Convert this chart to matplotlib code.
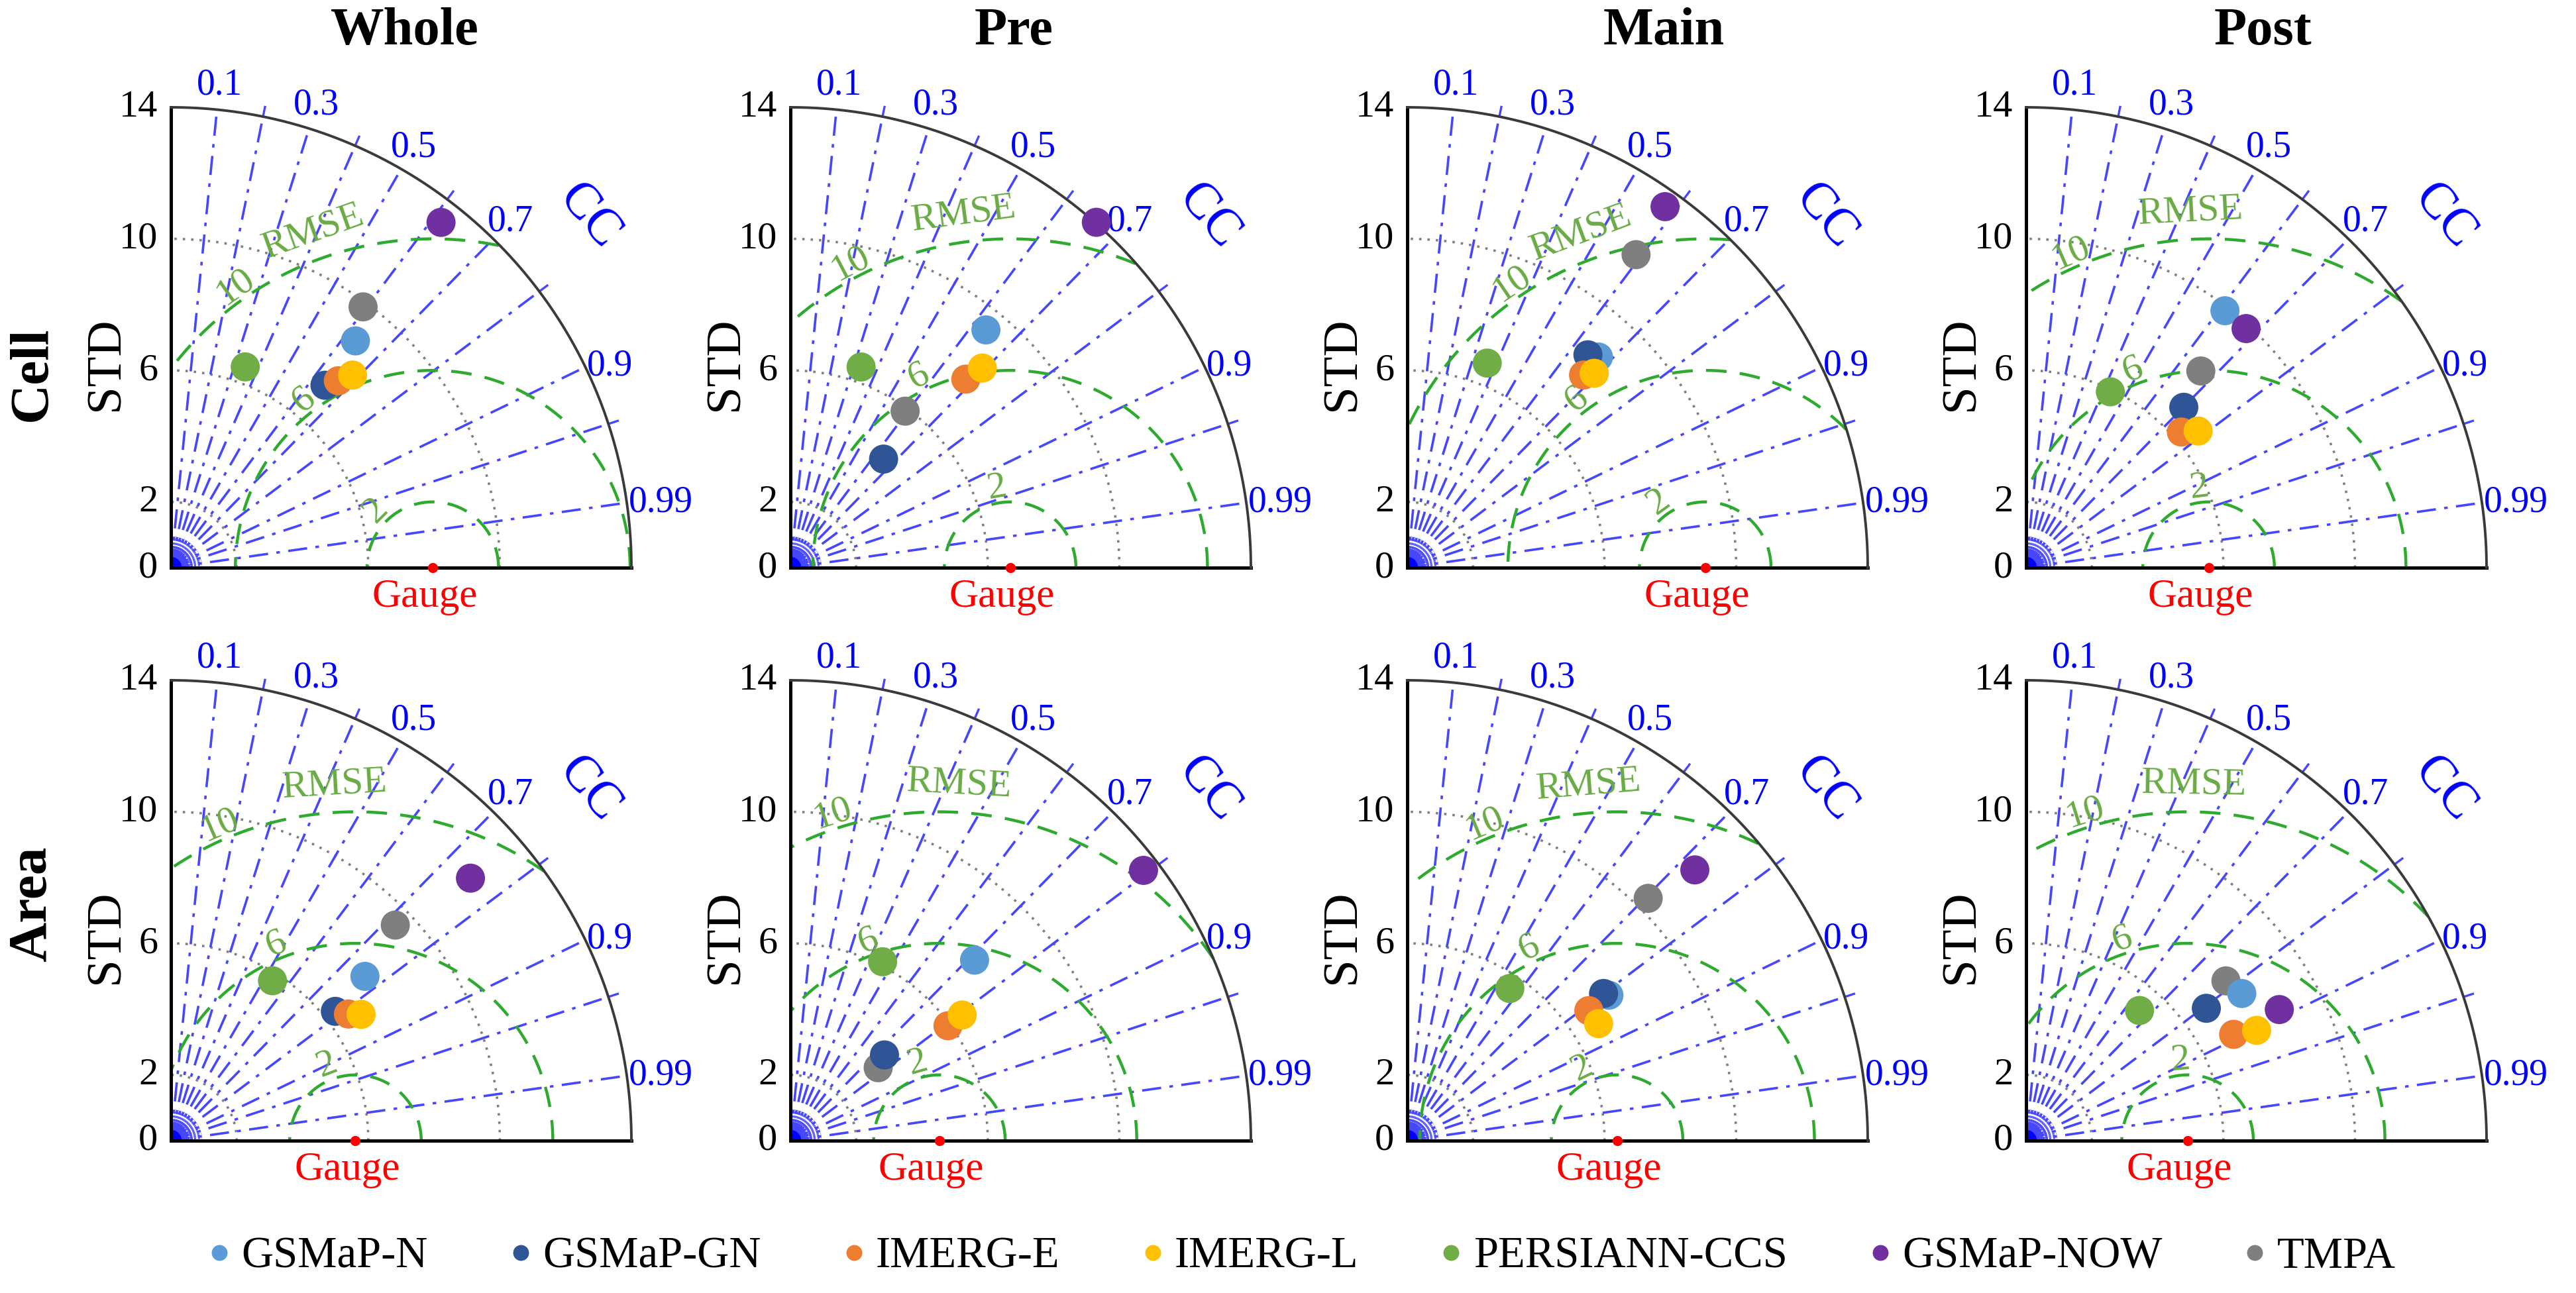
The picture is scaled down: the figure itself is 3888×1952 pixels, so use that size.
import numpy as np
import matplotlib.pyplot as plt
from matplotlib.patches import Wedge
from matplotlib.lines import Line2D

plt.rcParams["font.family"] = ["Liberation Serif", "DejaVu Serif"]

periods = ["Whole", "Pre", "Main", "Post"]
scales = ["Cell", "Area"]
products = ["GSMaP-N", "GSMaP-GN", "IMERG-E", "IMERG-L", "PERSIANN-CCS", "GSMaP-NOW", "TMPA"]
colors = ["#5b9bd5", "#2f5597", "#ed7d31", "#ffc000", "#70ad47", "#7030a0", "#7f7f7f"]

gauge_std_cell = [7.96, 6.68, 9.06, 5.55]
gauge_std_area = [5.61, 4.53, 6.38, 4.91]

# one row per period, products in the order above
std_cell = [
    [8.89, 7.26, 7.63, 8.05, 6.51, 13.33, 9.85],
    [9.36, 4.35, 7.83, 8.42, 6.47, 14.03, 5.90],
    [8.65, 8.49, 7.94, 8.20, 6.68, 13.49, 11.79],
    [9.88, 6.84, 6.27, 6.68, 5.93, 9.88, 8.00],
]
cc_cell = [
    [0.631, 0.645, 0.667, 0.686, 0.347, 0.616, 0.593],
    [0.635, 0.651, 0.681, 0.693, 0.332, 0.663, 0.591],
    [0.672, 0.647, 0.675, 0.693, 0.364, 0.581, 0.590],
    [0.612, 0.701, 0.753, 0.783, 0.432, 0.677, 0.664],
]
std_area = [
    [7.73, 6.36, 6.63, 6.94, 5.76, 12.11, 9.46],
    [7.84, 3.87, 5.93, 6.47, 6.12, 13.52, 3.47],
    [7.56, 7.46, 6.79, 6.82, 5.58, 12.01, 10.39],
    [7.94, 6.80, 7.09, 7.77, 5.25, 8.67, 7.78],
]
cc_area = [
    [0.763, 0.786, 0.814, 0.833, 0.536, 0.752, 0.721],
    [0.714, 0.739, 0.808, 0.807, 0.458, 0.794, 0.769],
    [0.811, 0.800, 0.813, 0.853, 0.559, 0.728, 0.705],
    [0.826, 0.806, 0.890, 0.902, 0.657, 0.888, 0.781],
]

cc_lines = [0.1, 0.2, 0.3, 0.4, 0.5, 0.6, 0.7, 0.8, 0.9, 0.95, 0.99]
cc_labels = [0.1, 0.3, 0.5, 0.7, 0.9, 0.99]
std_ticks = [0, 2, 6, 10, 14]
std_arcs = [2, 6, 10]
rmse_levels = [2, 6, 10]

# angle (deg, around the gauge point) where the rmse labels sit: 2, 6, 10, "RMSE"
rmse_label_ang = {
    ("Cell", 0): [135, 127.6, 125, 109.6], ("Cell", 1): [99.8, 115.5, 117.6, 97.5],
    ("Cell", 2): [125.8, 127.3, 124.2, 110.4], ("Cell", 3): [97, 111, 113.6, 92.9],
    ("Area", 0): [110.7, 112, 113.2, 93.4], ("Area", 1): [105.7, 109.6, 108, 86.9],
    ("Area", 2): [116, 114.5, 112.6, 94.6], ("Area", 3): [95, 107.9, 107.3, 89],
}
title_x = [7.1, 6.8, 7.8, 7.2]
row_label_y = {"Cell": 5.9, "Area": 7.2}

BLUE = "#4646ff"
GREEN = "#2eaa2e"
LGREEN = "#6aab45"
RMAX = 14.0


def taylor(ax, gauge, stds, ccs, lab_ang):
    ax.set_xlim(0, RMAX)
    ax.set_ylim(0, RMAX)
    ax.axis("off")
    th = np.linspace(0, np.pi / 2, 300)
    # std arcs (gray dotted)
    for r in std_arcs:
        ax.plot(r * np.cos(th), r * np.sin(th), color="#808080", ls=(0, (1, 2.5)), lw=1.3, zorder=1)
    # cc lines
    for c in cc_lines:
        a = np.arccos(c)
        ax.plot([0, RMAX * np.cos(a)], [0, RMAX * np.sin(a)], color=BLUE, lw=1.3,
                ls=(0, (8, 3.5, 1.5, 3.5)), zorder=2)
        if c not in cc_labels:
            ax.plot([RMAX * np.cos(a), 14.3 * np.cos(a)], [RMAX * np.sin(a), 14.3 * np.sin(a)],
                    color=BLUE, lw=1.2, clip_on=False, zorder=2)
    for c in cc_labels:
        a = np.arccos(c)
        if c < 0.8:
            ax.text(14.75 * np.cos(a), 14.75 * np.sin(a), f"{c:g}", color="blue", fontsize=20,
                    ha="center", va="center", clip_on=False)
        else:
            ax.text(14.05 * np.cos(a), 14.05 * np.sin(a), f"{c:g}", color="blue", fontsize=20,
                    ha="left", va="center", clip_on=False)
    a = np.deg2rad(40)
    ax.text(16.6 * np.cos(a), 16.6 * np.sin(a), "CC", color="blue", fontsize=28, rotation=-50,
            ha="center", va="center", clip_on=False)
    # fan near the origin
    for ang in np.linspace(2, 88, 30):
        t = np.deg2rad(ang)
        ax.plot([0, 0.95 * np.cos(t)], [0, 0.95 * np.sin(t)], color=BLUE, lw=0.6, ls=(0, (2, 1.5)), zorder=2)
    for r in [0.45, 0.65]:
        ax.plot(r * np.cos(th), r * np.sin(th), color=BLUE, lw=0.6, zorder=2)
    ax.add_patch(Wedge((0, 0), 0.3, 0, 90, color="blue", zorder=3, clip_on=False))
    # rmse circles around the gauge
    tc = np.linspace(0, np.pi, 600)
    for r in rmse_levels:
        x = gauge + r * np.cos(tc)
        y = r * np.sin(tc)
        keep = (x >= 0) & (np.hypot(x, y) <= RMAX)
        x = np.where(keep, x, np.nan)
        y = np.where(keep, y, np.nan)
        ax.plot(x, y, color=GREEN, lw=1.6, ls=(0, (7, 4.5)), zorder=2)
    for r, ang in zip(rmse_levels, lab_ang[:3]):
        t = np.deg2rad(ang)
        ax.text(gauge + (r + 0.45) * np.cos(t), (r + 0.45) * np.sin(t), str(r), color=LGREEN,
                fontsize=21, rotation=ang - 90, rotation_mode="anchor", ha="center", va="center", zorder=4)
    t = np.deg2rad(lab_ang[3])
    ax.text(gauge + 10.85 * np.cos(t), 10.85 * np.sin(t), "RMSE", color=LGREEN, fontsize=21,
            rotation=lab_ang[3] - 90, rotation_mode="anchor", ha="center", va="center", zorder=4)
    # frame
    ax.plot([0, 0], [0, RMAX], color="black", lw=1.8, zorder=5, clip_on=False)
    ax.plot([0, RMAX], [0, 0], color="black", lw=1.8, zorder=5, clip_on=False)
    ax.plot(RMAX * np.cos(th), RMAX * np.sin(th), color="#3a3a3a", lw=1.4, zorder=5, clip_on=False)
    for v in std_ticks:
        ax.text(-0.4, v, str(v), fontsize=21, ha="right", va="center", clip_on=False)
    ax.text(-1.95, 6.2, "STD", fontsize=27, rotation=90, ha="center", va="center", clip_on=False)
    # gauge
    ax.plot([gauge], [0], "o", color="red", ms=4.5, zorder=6, clip_on=False)
    ax.text(gauge - 0.25, -0.9, "Gauge", color="red", fontsize=22, ha="center", va="center", clip_on=False)
    # products
    for k in [6, 0, 1, 2, 3, 4, 5]:
        a = np.arccos(ccs[k])
        ax.scatter(stds[k] * np.cos(a), stds[k] * np.sin(a), s=250, color=colors[k],
                   edgecolors="none", zorder=7, clip_on=False)


fig = plt.figure(figsize=(19.44, 9.76), dpi=200)
lefts = [258 / 3888, 1193 / 3888, 2124 / 3888, 3058 / 3888]
bottoms = {"Cell": 1 - 857 / 1952, "Area": 1 - 1722 / 1952}
w = 695 / 3888
h = 695 / 1952

for row, scale in enumerate(scales):
    gauges = gauge_std_cell if scale == "Cell" else gauge_std_area
    std_all = std_cell if scale == "Cell" else std_area
    cc_all = cc_cell if scale == "Cell" else cc_area
    for j, per in enumerate(periods):
        ax = fig.add_axes([lefts[j], bottoms[scale], w, h])
        taylor(ax, gauges[j], std_all[j], cc_all[j], rmse_label_ang[(scale, j)])
        if row == 0:
            ax.text(title_x[j], 16.3, per, fontsize=29, fontweight="bold", ha="center", va="center",
                    clip_on=False)
        if j == 0:
            ax.text(-4.2, row_label_y[scale], scale, fontsize=30, fontweight="bold", rotation=90,
                    ha="center", va="center", clip_on=False)

handles = [Line2D([], [], ls="none", marker="o", ms=8.6, color=c, markeredgewidth=0) for c in colors]
fig.legend(handles, products, loc="center", bbox_to_anchor=(0.505, 0.028), ncol=7, frameon=False,
           fontsize=24, handlelength=0.6, handletextpad=0.2, columnspacing=1.8)

fig.savefig("out.png", dpi=200, facecolor="white")
